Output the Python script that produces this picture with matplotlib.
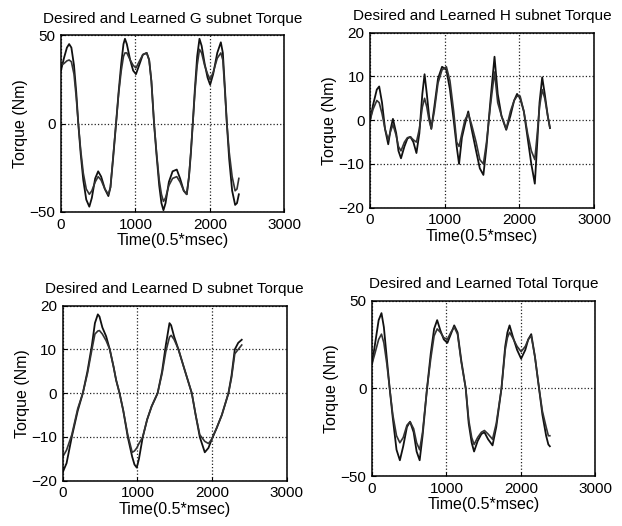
import matplotlib
matplotlib.use("Agg")
import matplotlib.pyplot as plt

plt.rcParams["font.family"] = ["Liberation Sans", "DejaVu Sans"]

# ---- G subnet torque ----
g_time = [0, 40, 80, 110, 140, 175, 205, 233, 265, 300, 340, 381, 415, 460, 500,
          540, 590, 637, 665, 700, 740, 775, 810, 840, 860, 885, 930, 970, 1008,
          1050, 1100, 1152, 1185, 1215, 1251, 1285, 1320, 1350, 1377, 1405, 1450,
          1500, 1556, 1600, 1650, 1690, 1720, 1745, 1771, 1800, 1830, 1861, 1890,
          1930, 1970, 2004, 2045, 2100, 2148, 2175, 2200, 2229, 2260, 2300, 2340,
          2365, 2390]
g_desired = [30, 37, 43, 45, 43, 33, 18, 0, -17, -32, -43, -47, -42, -31, -27,
             -30, -37, -41, -36, -20, 0, 18, 34, 45, 48, 45, 36, 30, 28,
             33, 39, 40, 36, 24, 0, -18, -35, -45, -49, -45, -33,
             -27, -26, -31, -38, -40, -30, -17, 0, 20, 38, 48, 44,
             34, 26, 22, 28, 40, 46, 40, 22, 0, -20, -38, -46,
             -45, -40]
g_learned = [33, 34, 35.5, 36, 35, 28, 15, 0, -15, -28, -37, -40, -38, -33, -30,
             -32, -37, -40, -36, -19, 0, 17, 30, 38, 40, 40, 36, 33, 31.5,
             35, 39, 40, 36, 24, 0, -17, -32, -40, -44, -42, -35,
             -31, -30, -33, -38, -40, -30, -16, 0, 18, 33, 42, 40,
             33, 28, 25, 29, 37, 40, 36, 20, 0, -16, -30, -38,
             -37, -31]

# ---- H subnet torque ----
h_time = [0, 40, 90, 122, 160, 200, 243, 275, 306, 350, 380, 414, 460, 500, 540,
          580, 621, 660, 700, 730, 760, 790, 820, 860, 910, 964, 1022, 1070,
          1120, 1160, 1192, 1230, 1270, 1315, 1360, 1420, 1470, 1518, 1560, 1610,
          1667, 1710, 1760, 1824, 1880, 1930, 1969, 2010, 2060, 2110, 2160, 2207,
          2240, 2270, 2306, 2340, 2380, 2410]
h_desired = [0, 3.5, 7, 7.7, 4, -2, -5.5, -2, 0.3, -3, -7, -8.7, -6, -4.2, -3.8,
             -5, -7.5, -3, 6, 10.5, 6, 1, -2, 3, 9.5, 12.2, 11.5, 7,
             0, -6, -10, -4, -1, 2, -2, -7, -11, -12.5, -6, 4,
             14.5, 6, 1, -2.2, 1, 4.5, 6, 5, 2, -4, -10, -14.5,
             -5, 4, 9.8, 6, 1, -1.8]
h_learned = [0, 2.5, 4.5, 4, 1.5, -2, -4.5, -2.5, -1, -3.5, -6, -7, -5, -4, -3.8,
             -4.5, -5, -2, 3, 5, 3, 0, -1.9, 2, 8.5, 11.5, 12.2, 9,
             2, -5, -6, -3, 0, 1.5, -1, -5, -9, -10, -5, 3,
             11, 4, 1, -2, 2, 4.5, 5.5, 5.5, 2, -3, -7, -9,
             -3, 3, 7, 5, 1, -1.8]

# ---- D subnet torque ----
d_time = [0, 50, 120, 200, 268, 330, 390, 430, 469, 491, 530, 580, 629, 680, 714,
          760, 810, 870, 929, 960, 991, 1020, 1071, 1130, 1190, 1270, 1330, 1380,
          1429, 1451, 1490, 1549, 1620, 1674, 1728, 1780, 1835, 1902, 1951, 1996,
          2060, 2130, 2219, 2260, 2304, 2350, 2397]
d_desired = [-18, -16, -10, -4, 0, 5, 11, 16, 18, 17.5, 15, 13, 10, 6, 3,
             0, -4, -10, -14.5, -16.3, -17, -15, -10, -6, -3, 0, 5, 11,
             16, 15.5, 13, 10, 6, 3, 0, -5, -10, -13.5, -12.5, -10.5,
             -8, -5, 0, 4, 10, 11.5, 12.2]
d_learned = [-14.5, -13, -9.5, -3.5, 0, 4.5, 10, 13.5, 14.2, 14.3, 13.5, 12, 10, 6, 3,
             0, -4, -9.5, -13.5, -13.2, -12.5, -11.5, -10, -6, -3, 0, 4.5, 9.5,
             12.8, 13.2, 12.3, 10, 6, 3, 0, -5, -9.5, -11, -11.5, -10.5,
             -8, -5, 0, 3.5, 9, 10, 11]

# ---- Total torque ----
t_time = [0, 40, 90, 128, 160, 200, 238, 280, 330, 375, 420, 470, 512, 560, 600,
          641, 680, 740, 790, 835, 876, 920, 965, 1013, 1060, 1105, 1150, 1200,
          1260, 1300, 1340, 1372, 1420, 1470, 1511, 1560, 1620, 1670, 1740, 1790,
          1820, 1849, 1890, 1950, 2004, 2060, 2100, 2140, 2190, 2245, 2290, 2340,
          2370, 2390]
t_desired = [14, 25, 39, 43, 35, 17, 0, -17, -35, -41, -33, -22, -19, -25, -36,
             -41, -27, 0, 20, 34, 39, 33, 28, 26, 31, 36, 32, 16,
             0, -20, -31, -36, -30, -26, -25, -29, -32.5, -22, 0, 24,
             32, 36, 30, 22, 17, 22, 28, 31, 18, 0, -15, -27,
             -32, -33]
t_learned = [14, 20, 28, 31, 26, 14, 0, -15, -27, -31, -28, -21, -19, -23, -31,
             -35, -25, 0, 17, 30, 34, 32, 29, 28, 32, 35, 31, 15,
             0, -18, -28, -32, -28, -25, -24, -26, -29, -20, 0, 22,
             29, 32, 29, 24, 21, 24, 28, 30, 18, 0, -13, -22,
             -27, -27]

panels = [
    ("Desired and Learned G subnet Torque", g_time, g_desired, g_learned,
     (-50, 50), [-50, 0, 50], [0.098, 0.597, 0.359, 0.336]),
    ("Desired and Learned H subnet Torque", h_time, h_desired, h_learned,
     (-20, 20), [-20, -10, 0, 10, 20], [0.595, 0.605, 0.360, 0.333]),
    ("Desired and Learned D subnet Torque", d_time, d_desired, d_learned,
     (-20, 20), [-20, -10, 0, 10, 20], [0.101, 0.086, 0.360, 0.333]),
    ("Desired and Learned Total Torque", t_time, t_desired, t_learned,
     (-50, 50), [-50, 0, 50], [0.598, 0.095, 0.359, 0.333]),
]

fig = plt.figure(figsize=(6.22, 5.26), dpi=100)

for title, tt, des, lrn, ylim, yticks, pos in panels:
    ax = fig.add_axes(pos)
    ax.plot(tt, des, color="#111111", lw=1.3)
    ax.plot(tt, lrn, color="#333333", lw=1.2)
    ax.set_xlim(0, 3000)
    ax.set_ylim(*ylim)
    ax.set_xticks([0, 1000, 2000, 3000])
    ax.set_yticks(yticks)
    ax.grid(True, linestyle=":", color="#222222", lw=0.9)
    ax.tick_params(direction="in", length=3, labelsize=11, pad=4)
    for sp in ax.spines.values():
        sp.set_linewidth(1.1)
    ax.set_title(title, fontsize=11, pad=9)
    ax.set_xlabel("Time(0.5*msec)", fontsize=11.5, labelpad=1)
    ax.set_ylabel("Torque (Nm)", fontsize=11.5, labelpad=1)

plt.savefig("out.png", dpi=100)
plt.close()
